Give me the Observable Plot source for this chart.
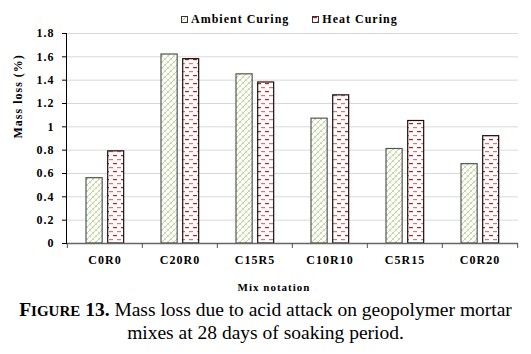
<!DOCTYPE html>
<html>
<head>
<meta charset="utf-8">
<script src="https://cdn.jsdelivr.net/npm/d3@7"></script>
<script src="https://cdn.jsdelivr.net/npm/@observablehq/plot@0.6"></script>
<style>
  html, body { margin: 0; padding: 0; background: #fff; }
  body { width: 531px; height: 354px; overflow: hidden; font-family: "Liberation Serif", "Times New Roman", serif; color: #000; }
  #legend { height: 14px; padding-top: 12px; line-height: 14px; font-weight: bold; font-size: 12px; letter-spacing: 1px; display: flex; padding-left: 181px; white-space: nowrap; font-family: "Liberation Serif", serif; }
  #legend .item { margin-right: 23px; }
  #legend svg { display: inline-block; vertical-align: baseline; margin-right: 3px; }
  #caption { text-align: center; font-size: 19.5px; line-height: 21px; margin-top: 3px; white-space: nowrap; font-family: "Liberation Serif", serif; }
  #chart svg { display: block; }
  #chart svg text, #chart svg g[aria-label] { font-family: "Liberation Serif", serif !important; }
</style>
</head>
<body>
<svg width="0" height="0" style="position:absolute">
  <defs>
    <pattern id="ambPat" patternUnits="userSpaceOnUse" width="6" height="6">
      <rect width="6" height="6" fill="#fff"/>
      <path d="M0,6 L6,0 M-1,1 L1,-1 M5,7 L7,5" stroke="#a8c878" stroke-width="0.8"/>
      <path d="M0,0 L3,3 M3,3 L6,6" stroke="#bcd494" stroke-width="0.7" stroke-dasharray="2,1"/>
    </pattern>
    <pattern id="heatPat" patternUnits="userSpaceOnUse" width="8" height="8">
      <rect width="8" height="8" fill="#fff"/>
      <rect x="1" y="1" width="4" height="1.2" fill="#e01010"/>
      <rect x="5" y="5" width="4" height="1.2" fill="#e87070"/>
      <rect x="-3" y="5" width="4" height="1.2" fill="#e87070"/>
    </pattern>
  </defs>
</svg>
<div id="legend"></div>
<div id="chart"></div>
<div id="caption"><b><span style="font-size:19.5px">F</span><span style="font-size:15px">IGURE</span> 13.</b> Mass loss due to acid attack on geopolymer mortar<br>mixes at 28 days of soaking period.</div>
<script>
const mixes = ["C0R0", "C20R0", "C15R5", "C10R10", "C5R15", "C0R20"];
const ambient = [0.56, 1.62, 1.45, 1.07, 0.81, 0.68];
const heat = [0.79, 1.58, 1.38, 1.27, 1.05, 0.92];
const yTicks = [0, 0.2, 0.4, 0.6, 0.8, 1, 1.2, 1.4, 1.6, 1.8];
const seriesNames = ["Ambient Curing", "Heat Curing"];
const seriesFills = ["url(#ambPat)", "url(#heatPat)"];
const seriesStrokes = ["#555", "#111"];

const data = mixes.map((m, i) => ({mix: m, ambient: ambient[i], heat: heat[i]}));

// legend
const legend = document.getElementById("legend");
seriesNames.forEach((name, i) => {
  const item = document.createElement("span");
  item.className = "item";
  item.innerHTML = `<svg width="7" height="7"><rect x="0.5" y="0.5" width="6" height="6" fill="${seriesFills[i]}" stroke="#333" stroke-width="1"/></svg>${name}`;
  legend.appendChild(item);
});

const W = 531, H = 270, mL = 66, mR = 13, mT = 7, mB = 53;
const bw = (W - mL - mR) / mixes.length;
const ph = H - mT - mB;
const serif = "Liberation Serif";

const chart = Plot.plot({
  width: W,
  height: H,
  marginTop: mT,
  marginBottom: mB,
  marginLeft: mL,
  marginRight: mR,
  style: {fontFamily: serif, fontSize: "12px", fontWeight: "bold", letterSpacing: "1px", color: "#000", background: "#fff", overflow: "visible"},
  x: {domain: mixes, padding: 0, label: null},
  y: {domain: [0, 1.8], label: null},
  marks: [
    Plot.gridY(yTicks, {stroke: "#d9d9d9", strokeOpacity: 1}),
    Plot.barY(data, {x: "mix", y: "ambient", fill: seriesFills[0], stroke: seriesStrokes[0], strokeWidth: 1.2, insetLeft: 19, insetRight: bw - 35.5}),
    Plot.barY(data, {x: "mix", y: "heat", fill: seriesFills[1], stroke: seriesStrokes[1], strokeWidth: 1.2, insetLeft: 40.7, insetRight: bw - 57}),
    Plot.ruleY([0], {stroke: "#666", strokeWidth: 1.5}),
    Plot.frame({anchor: "left", stroke: "#000"}),
    Plot.axisY(yTicks, {tickSize: 4, tickPadding: 8, tickFormat: d => String(d), label: null, stroke: "#000", fontFamily: serif, fontSize: 12, fontWeight: "bold"}),
    Plot.axisX({tickSize: 0, tickPadding: 12, label: null, fontFamily: serif, fontSize: 12, fontWeight: "bold"}),
    Plot.tickX(mixes, {x: d => d, dx: -bw / 2, insetTop: ph, insetBottom: -5, stroke: "#555"}),
    Plot.tickX([mixes[mixes.length - 1]], {x: d => d, dx: bw / 2, insetTop: ph, insetBottom: -5, stroke: "#555"}),
    Plot.text(["Mix notation"], {frameAnchor: "bottom", lineAnchor: "bottom", dy: 47, dx: -18.5, fontSize: 11, fontWeight: "bold", fontFamily: serif, fill: "#000"}),
    Plot.text(["Mass loss (%)"], {frameAnchor: "left", rotate: -90, dx: -48, fontSize: 12, fontWeight: "bold", fontFamily: serif, fill: "#000"})
  ]
});
document.getElementById("chart").appendChild(chart);
</script>
</body>
</html>
